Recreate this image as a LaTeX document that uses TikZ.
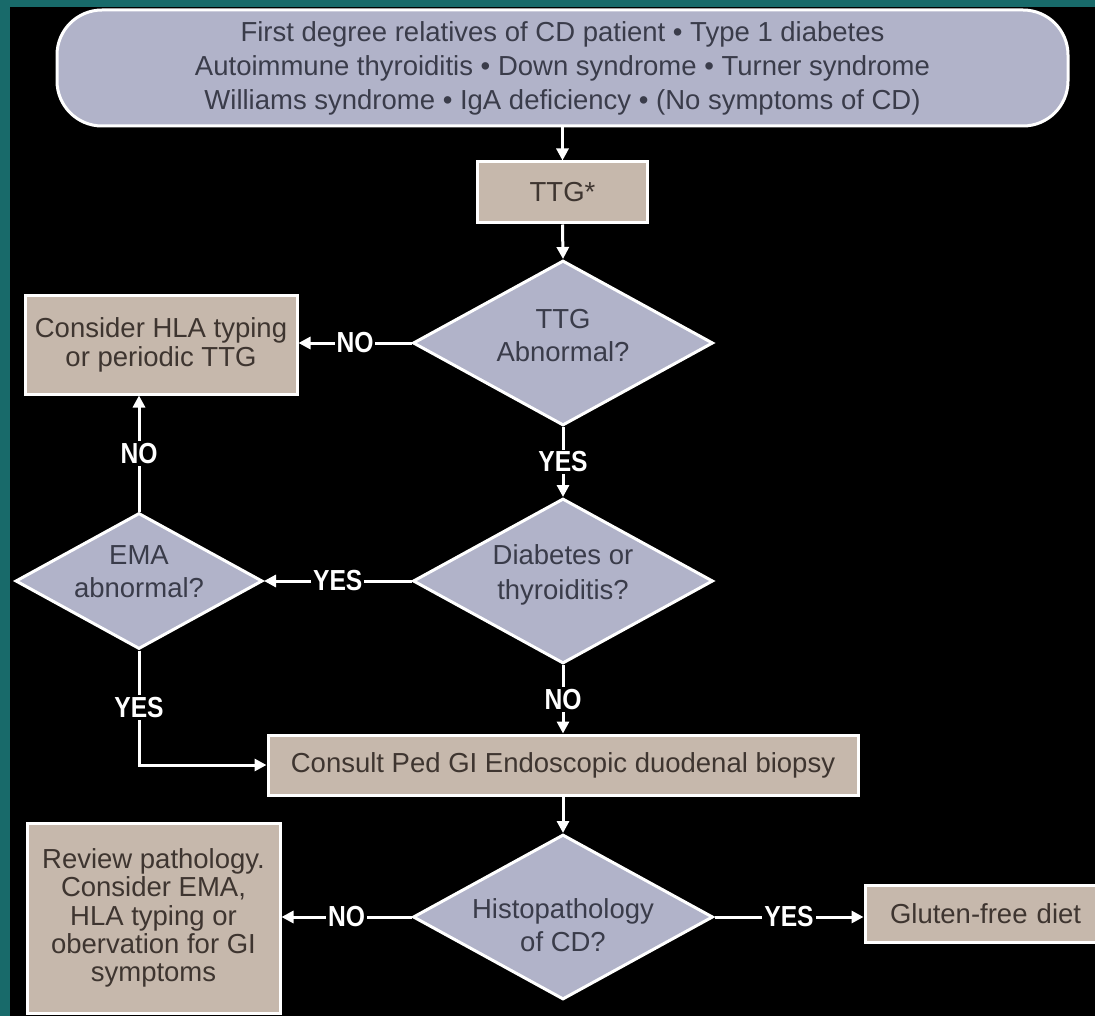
\documentclass[tikz,border=0pt]{standalone}
\usepackage{fontspec}
\setmainfont{Liberation Sans}
\usetikzlibrary{shapes.geometric,arrows.meta,calc}
\definecolor{tealbg}{HTML}{186A6A}
\definecolor{lav}{HTML}{B1B3C9}
\definecolor{tan}{HTML}{C6B8AC}
\definecolor{lavtext}{HTML}{3A3C4A}
\definecolor{tantext}{HTML}{3E3530}
\newcommand{\lbltext}[1]{\scalebox{0.85}[1]{#1}}
\begin{document}
\begin{tikzpicture}[x=1pt,y=-1pt,
  txt/.style={font=\fontsize{27.5}{33}\selectfont, align=center},
  procbox/.style={rectangle, draw=white, line width=3pt, fill=tan, text=tantext, txt, inner sep=0pt},
  decbox/.style={diamond, draw=white, line width=3pt, fill=lav, inner sep=0pt},
  dectext/.style={txt, text=lavtext, inner sep=0pt},
  arr/.style={draw=white, line width=3pt, -{Triangle[length=12pt,width=12pt]}},
  lbl/.style={font=\bfseries\fontsize{29}{29}\selectfont, text=white, fill=black, inner sep=2pt}
]
\useasboundingbox (0,0) rectangle (1095,1016);
\fill[tealbg] (0,0) rectangle (1095,1016);
\fill[black] (10,7) rectangle (1095,1016);

% top box
\node[draw=white, line width=3pt, fill=lav, rounded corners=45pt, text=lavtext,
      minimum width=1011pt, minimum height=116pt, inner sep=0pt,
      font=\fontsize{27.5}{34}\selectfont, align=center] (top) at (562.5,68)
  {First degree relatives of CD patient • Type 1 diabetes\\
   Autoimmune thyroiditis • Down syndrome • Turner syndrome\\
   Williams syndrome • IgA deficiency • (No symptoms of CD)};

% process boxes
\node[procbox, minimum width=170pt, minimum height=61pt] (ttg) at (562.5,192.5) {TTG*};
\node[procbox, minimum width=272pt, minimum height=98pt, font=\fontsize{27.5}{29}\selectfont] (cons) at (161,345)
  {Consider HLA typing\\or periodic TTG};
\node[procbox, minimum width=590pt, minimum height=60pt] (biopsy) at (563,765)
  {Consult Ped GI Endoscopic duodenal biopsy};
\node[procbox, minimum width=253pt, minimum height=190pt, font=\fontsize{27.5}{28.3}\selectfont] (review) at (153.5,918)
  {Review pathology.\\Consider EMA,\\HLA typing or\\obervation for GI\\symptoms};
\node[procbox, minimum width=245pt, minimum height=57pt, text width=245pt, align=left] (gluten) at (987.5,914)
  {\hspace*{25pt}Gluten-free diet};

% decisions
\node[decbox, minimum width=300pt, minimum height=165pt] (d1) at (563,343) {};
\node[dectext] (d1t) at (563,336) {TTG\\Abnormal?};
\node[decbox, minimum width=300pt, minimum height=165pt] (d2) at (563,581) {};
\node[dectext, font=\fontsize{27.5}{35}\selectfont] (d2t) at (563,575) {Diabetes or\\thyroiditis?};
\node[decbox, minimum width=247pt, minimum height=136pt] (d3) at (139,581) {};
\node[dectext] (d3t) at (139,572) {EMA\\abnormal?};
\node[decbox, minimum width=300pt, minimum height=165pt] (d4) at (563,917) {};
\node[dectext] (d4t) at (563,925) {Histopathology\\of CD?};

% connectors
\draw[arr] (top.south) -- (ttg.north);
\draw[arr] (ttg.south) -- (d1.north);
\draw[arr] (d1.west) -- (d1.west -| cons.east) node[lbl, midway] (l1) {\lbltext{NO}};
\draw[arr] (d1.south) -- (d2.north) node[lbl, midway] (l2) {\lbltext{YES}};
\draw[arr] (d2.west) -- (d3.east) node[lbl, midway] (l3) {\lbltext{YES}};
\draw[arr] (d3.north) -- (d3.north |- cons.south) node[lbl, midway] (l4) {\lbltext{NO}};
\draw[arr] (d3.south) |- (biopsy.west) node[lbl, pos=0.25] (l5) {\lbltext{YES}};
\draw[arr] (d2.south) -- (biopsy.north) node[lbl, midway] (l6) {\lbltext{NO}};
\draw[arr] (biopsy.south) -- (d4.north);
\draw[arr] (d4.west) -- (d4.west -| review.east) node[lbl, midway] (l7) {\lbltext{NO}};
\draw[arr] (d4.east) -- (d4.east -| gluten.west) node[lbl, midway] (l8) {\lbltext{YES}};
\end{tikzpicture}
\end{document}
